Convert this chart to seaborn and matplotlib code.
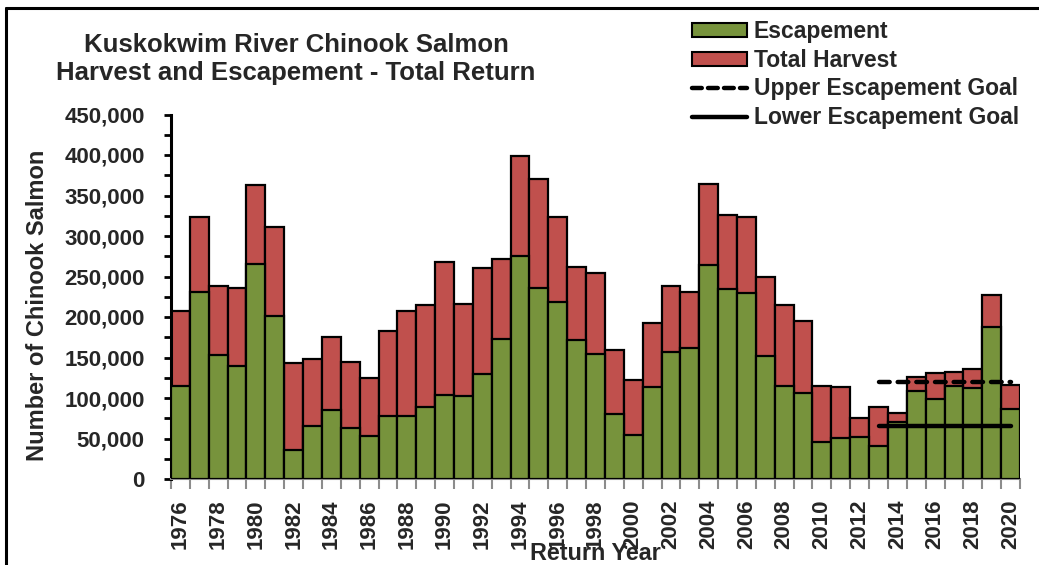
import numpy as np
import pandas as pd
import matplotlib
matplotlib.use("Agg")
import matplotlib.pyplot as plt
import seaborn as sns
from matplotlib.patches import Patch
from matplotlib.lines import Line2D
from matplotlib.ticker import FuncFormatter, MultipleLocator

years = list(range(1976, 2021))
escapement = [115100, 231100, 153400, 139400, 265200, 200700, 36200, 65800, 85500, 62500,
              52600, 78100, 78100, 88400, 103200, 102000, 129100, 172300, 275500, 236400,
              218300, 171500, 154600, 80600, 54300, 113900, 156300, 161600, 264000, 234800,
              229500, 152100, 115100, 106100, 45200, 50200, 51400, 40300, 69900, 108100,
              98300, 114300, 112300, 187500, 86800]
total_return = [206800, 324000, 237700, 236000, 362700, 311300, 143100, 148400, 174800, 144700,
                124200, 182600, 206800, 215100, 267700, 215900, 260300, 271800, 398500, 370900,
                324000, 261500, 254100, 159500, 121700, 192900, 237700, 231100, 364700, 326500,
                324000, 249200, 215100, 195300, 115100, 113900, 74800, 88400, 81800, 125400,
                130400, 132000, 135300, 227400, 116400]
goal_years = [2013, 2020]
upper_goal = [120000, 120000]
lower_goal = [65000, 65000]

title = "Kuskokwim River Chinook Salmon\nHarvest and Escapement - Total Return"
green = "#77933C"
red = "#C0504D"

df = pd.DataFrame({"year": [str(y) for y in years],
                   "Escapement": escapement,
                   "Total": total_return})

sns.set_theme(style="white")
plt.rcParams["font.family"] = ["Liberation Sans", "DejaVu Sans"]
plt.rcParams["font.weight"] = "bold"

fig = plt.figure(figsize=(10.39, 5.65), dpi=100)
ax = fig.add_axes([171/1039, 1-479/565, (1020-171)/1039, (479-114.5)/565])

sns.barplot(data=df, x="year", y="Total", color=red, saturation=1, width=1.0,
            edgecolor="black", linewidth=1.6, ax=ax, zorder=2)
sns.barplot(data=df, x="year", y="Escapement", color=green, saturation=1, width=1.0,
            edgecolor="black", linewidth=1.6, ax=ax, zorder=3)

idx = [years.index(y) for y in goal_years]
ax.plot(idx, upper_goal, color="black", lw=3.2, linestyle=(0, (2.4, 1.8)),
        dash_capstyle="round", zorder=5)
ax.plot(idx, lower_goal, color="black", lw=3.2, solid_capstyle="round", zorder=5)

ax.set_ylim(0, 450000)
ax.set_xlim(-0.5, len(years) - 0.5)
ax.yaxis.set_major_locator(MultipleLocator(50000))
ax.yaxis.set_minor_locator(MultipleLocator(25000))
ax.yaxis.set_major_formatter(FuncFormatter(lambda v, p: f"{int(v):,}"))
ax.tick_params(axis="y", which="both", direction="out", length=5, width=2,
               color="black", left=True, labelsize=16, pad=14)

ax.set_xticks([i for i, y in enumerate(years) if y % 2 == 0])
ax.set_xticklabels([str(y) for y in years if y % 2 == 0], rotation=90,
                   fontsize=16, fontweight="bold")
ax.set_xticks(np.arange(-0.5, len(years)), minor=True)
ax.tick_params(axis="x", which="major", length=0, pad=15)
ax.tick_params(axis="x", which="minor", direction="out", length=7, width=1.5,
               color="#8c8c8c", bottom=True)
for lab in ax.get_yticklabels():
    lab.set_fontweight("bold")

for s in ["top", "right"]:
    ax.spines[s].set_visible(False)
ax.spines["left"].set_color("black")
ax.spines["left"].set_linewidth(2.2)
ax.spines["bottom"].set_color("#8c8c8c")
ax.spines["bottom"].set_linewidth(1.5)
ax.grid(False)

ax.set_ylabel("")
ax.set_xlabel("")
fig.text(38/1039, 1-305/565, "Number of Chinook Salmon", rotation=90, ha="center",
         va="center", fontsize=17, fontweight="bold")
fig.text(595/1039, 1-553/565, "Return Year", ha="center", va="center",
         fontsize=16.8, fontweight="bold")

fig.text(296/1039, 1-59/565, title, ha="center", va="center", fontsize=18.5,
         fontweight="bold", linespacing=1.2)

handles = [Patch(facecolor=green, edgecolor="black", linewidth=1.5, label="Escapement"),
           Patch(facecolor=red, edgecolor="black", linewidth=1.5, label="Total Harvest"),
           Line2D([], [], color="black", lw=3.2, linestyle=(0, (2.2, 1.4)),
                  dash_capstyle="round", label="Upper Escapement Goal"),
           Line2D([], [], color="black", lw=3.2, label="Lower Escapement Goal")]
leg = fig.legend(handles=handles, loc="upper left", bbox_to_anchor=(692/1039, 1-20/565),
                 frameon=False, prop={"size": 16.5, "weight": "bold"},
                 handlelength=2.4, handleheight=0.55, handletextpad=0.3,
                 labelspacing=0.25, borderaxespad=0, borderpad=0)

fig.add_artist(Line2D([6/1039, 6/1039], [0, 1-8/565], color="black", lw=2.2,
                      transform=fig.transFigure))
fig.add_artist(Line2D([6/1039, 1], [1-8/565, 1-8/565], color="black", lw=2.2,
                      transform=fig.transFigure))

fig.savefig("out.png", dpi=100)
